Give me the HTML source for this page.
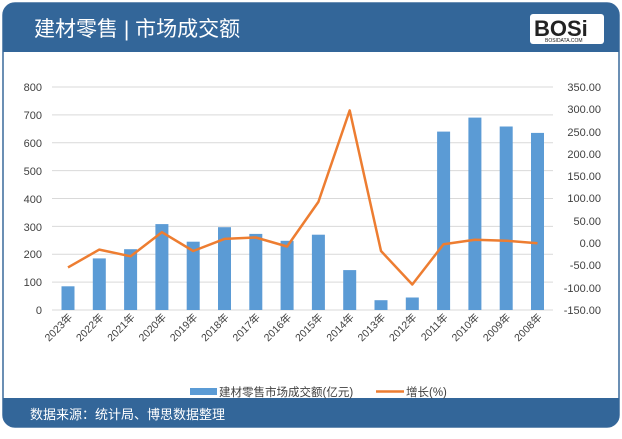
<!DOCTYPE html>
<html><head><meta charset="utf-8"><style>
body{margin:0;width:622px;height:434px;background:#fff;overflow:hidden;font-family:"Liberation Sans","Noto Sans CJK SC",sans-serif}
</style></head><body>
<svg width="622" height="434" xmlns="http://www.w3.org/2000/svg" font-family="Liberation Sans, Noto Sans CJK SC, sans-serif">
<rect x="3" y="3" width="616" height="424" rx="12" fill="#fff" stroke="#3a6a9c" stroke-width="1.5"/>
<path d="M3 52 V15 A12 12 0 0 1 15 3 H607 A12 12 0 0 1 619 15 V52 Z" fill="#336699"/>
<text x="34" y="36" font-size="21" fill="#fff">建材零售 | 市场成交额</text>
<rect x="530" y="14" width="74" height="30" rx="3" fill="#fff"/>
<text x="534" y="36" font-size="22" font-weight="bold" fill="#222">BOSi</text>
<text x="545" y="42" font-size="5" fill="#222">BOSIDATA.COM</text>
<path d="M3 398 H619 V415 A12 12 0 0 1 607 427 H15 A12 12 0 0 1 3 415 Z" fill="#336699"/>
<text x="30" y="419" font-size="13" fill="#fff">数据来源：统计局、博思数据整理</text>
<g stroke="#d9d9d9" stroke-width="1">
<line x1="52" x2="553" y1="87" y2="87"/><line x1="52" x2="553" y1="114.9" y2="114.9"/><line x1="52" x2="553" y1="142.8" y2="142.8"/><line x1="52" x2="553" y1="170.6" y2="170.6"/><line x1="52" x2="553" y1="198.5" y2="198.5"/><line x1="52" x2="553" y1="226.4" y2="226.4"/><line x1="52" x2="553" y1="254.3" y2="254.3"/><line x1="52" x2="553" y1="282.1" y2="282.1"/><line x1="52" x2="553" y1="310" y2="310"/>
</g>
<g font-size="11" fill="#404040" text-anchor="end">
<text x="42" y="91">800</text><text x="42" y="119">700</text><text x="42" y="147">600</text><text x="42" y="175">500</text><text x="42" y="203">400</text><text x="42" y="231">300</text><text x="42" y="258">200</text><text x="42" y="286">100</text><text x="42" y="314">0</text>
</g>
<g font-size="11" fill="#404040" text-anchor="end">
<text x="601" y="91">350.00</text><text x="601" y="113">300.00</text><text x="601" y="136">250.00</text><text x="601" y="158">200.00</text><text x="601" y="180">150.00</text><text x="601" y="202">100.00</text><text x="601" y="225">50.00</text><text x="601" y="247">0.00</text><text x="601" y="269">-50.00</text><text x="601" y="292">-100.00</text><text x="601" y="314">-150.00</text>
</g>
<g fill="#5b9bd5">
<rect x="61.5" y="286.3" width="13" height="23.7"/>
<rect x="92.8" y="258.4" width="13" height="51.6"/>
<rect x="124.1" y="249.2" width="13" height="60.8"/>
<rect x="155.4" y="224.1" width="13" height="85.9"/>
<rect x="186.7" y="241.7" width="13" height="68.3"/>
<rect x="218" y="227.2" width="13" height="82.8"/>
<rect x="249.3" y="233.9" width="13" height="76.1"/>
<rect x="280.6" y="240.8" width="13" height="69.2"/>
<rect x="311.9" y="234.7" width="13" height="75.3"/>
<rect x="343.2" y="270.1" width="13" height="39.9"/>
<rect x="374.5" y="300.2" width="13" height="9.8"/>
<rect x="405.8" y="297.5" width="13" height="12.5"/>
<rect x="437.1" y="131.6" width="13" height="178.4"/>
<rect x="468.4" y="117.6" width="13" height="192.4"/>
<rect x="499.7" y="126.5" width="13" height="183.5"/>
<rect x="531" y="132.9" width="13" height="177.1"/>
</g>
<polyline fill="none" stroke="#ed7d31" stroke-width="2.5" stroke-linejoin="round" points="68,267.4 99.3,249.6 130.6,256.3 161.9,232.2 193.2,251 224.5,238.9 255.8,237.5 287.1,246.5 318.4,201.9 349.7,110.4 381,251 412.3,284.5 443.6,244.2 474.9,239.8 506.2,240.7 537.5,243.3"/>
<g font-size="10.5" fill="#404040" text-anchor="end">
<text transform="translate(73,318) rotate(-45)">2023年</text>
<text transform="translate(104.3,318) rotate(-45)">2022年</text>
<text transform="translate(135.6,318) rotate(-45)">2021年</text>
<text transform="translate(166.9,318) rotate(-45)">2020年</text>
<text transform="translate(198.2,318) rotate(-45)">2019年</text>
<text transform="translate(229.5,318) rotate(-45)">2018年</text>
<text transform="translate(260.8,318) rotate(-45)">2017年</text>
<text transform="translate(292.1,318) rotate(-45)">2016年</text>
<text transform="translate(323.4,318) rotate(-45)">2015年</text>
<text transform="translate(354.7,318) rotate(-45)">2014年</text>
<text transform="translate(386,318) rotate(-45)">2013年</text>
<text transform="translate(417.3,318) rotate(-45)">2012年</text>
<text transform="translate(448.6,318) rotate(-45)">2011年</text>
<text transform="translate(479.9,318) rotate(-45)">2010年</text>
<text transform="translate(511.2,318) rotate(-45)">2009年</text>
<text transform="translate(542.5,318) rotate(-45)">2008年</text>
</g>
<rect x="190" y="388" width="27" height="7" fill="#5b9bd5"/>
<text x="219" y="396" font-size="11.5" fill="#404040">建材零售市场成交额(亿元)</text>
<line x1="376" x2="404" y1="391.5" y2="391.5" stroke="#ed7d31" stroke-width="2.5"/>
<text x="406" y="396" font-size="11.5" fill="#404040">增长(%)</text>
</svg>
</body></html>
